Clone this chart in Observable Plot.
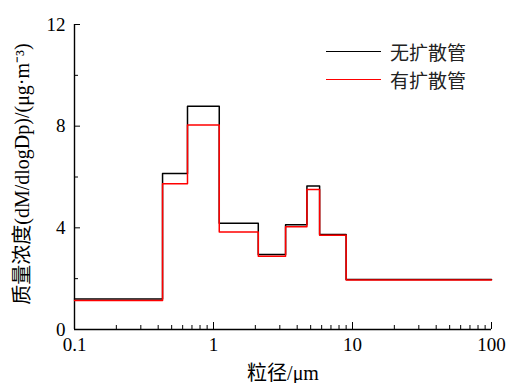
<!DOCTYPE html>
<html><head><meta charset="utf-8">
<script src="https://cdn.jsdelivr.net/npm/d3@7"></script>
<script src="https://cdn.jsdelivr.net/npm/@observablehq/plot@0.6"></script>
<style>
html,body{margin:0;padding:0;background:#fff;}
#wrap{position:relative;width:506px;height:383px;font-family:"Liberation Serif","Noto Sans CJK SC",serif;}
.leg{position:absolute;left:326px;font-size:19px;display:flex;align-items:center;color:#222;}
.leg span.l{display:inline-block;width:55px;height:0;border-top:1.5px solid;margin-right:9px;}
</style></head>
<body><div id="wrap"></div>
<script>
// Andersen stage cut-off diameters (µm) and bin values
const edges = [0.1, 0.43, 0.65, 1.1, 2.1, 3.3, 4.7, 5.8, 9.0, 100];
const noTube = [1.20, 6.14, 8.78, 4.18, 2.95, 4.12, 5.65, 3.74, 1.97];
const withTube = [1.14, 5.73, 8.05, 3.84, 2.88, 4.04, 5.51, 3.71, 1.95];
const seriesNames = ["无扩散管", "有扩散管"];
const seriesColors = ["#000000", "#ff0000"];
const xMajor = [0.1, 1, 10, 100];
const xMinor = [0.2,0.3,0.4,0.5,0.6,0.7,0.8,0.9,2,3,4,5,6,7,8,9,20,30,40,50,60,70,80,90];
const yMajor = [0, 4, 8, 12];
const yMinor = [2, 6, 10];

const W = 506, H = 383, mL = 74, mR = 15, mT = 24, mB = 54;
const fw = W - mL - mR, fh = H - mT - mB;
const toSteps = vals => edges.map((x, i) => ({x, y: vals[Math.min(i, vals.length - 1)]}));
const font = '"Liberation Serif","Noto Sans CJK SC",serif';

const chart = Plot.plot({
  width: W, height: H,
  marginLeft: mL, marginRight: mR, marginTop: mT, marginBottom: mB,
  style: {fontFamily: font, fontSize: "19px", color: "#000", background: "transparent"},
  x: {type: "log", domain: [0.1, 100]},
  y: {domain: [0, 12]},
  marks: [
    Plot.axisX({ticks: xMajor, tickSize: 0, tickPadding: 8, tickFormat: d => String(d), label: null, fontSize: 19}),
    Plot.axisY({ticks: yMajor, tickSize: 0, tickPadding: 9, label: null, fontSize: 19}),
    Plot.tickX(xMinor, {x: d => d, insetTop: fh - 4, stroke: "#000"}),
    Plot.tickX(xMajor, {x: d => d, insetTop: fh - 7, stroke: "#000"}),
    Plot.tickY(yMinor, {y: d => d, insetRight: fw - 4, stroke: "#000"}),
    Plot.tickY(yMajor, {y: d => d, insetRight: fw - 6, stroke: "#000"}),
    Plot.ruleX([0.1], {stroke: "#000", strokeWidth: 1.4}),
    Plot.ruleY([0], {stroke: "#000", strokeWidth: 1.4}),
    Plot.line(toSteps(noTube), {x: "x", y: "y", curve: "step-after", stroke: seriesColors[0], strokeWidth: 1.5}),
    Plot.line(toSteps(withTube), {x: "x", y: "y", curve: "step-after", stroke: seriesColors[1], strokeWidth: 1.5}),
    Plot.text(["粒径/μm"], {frameAnchor: "bottom", text: d => d, dy: 44, fontSize: 20, lineAnchor: "middle"}),
    Plot.text(["质量浓度(dM/dlogDp)/(μg·m⁻³)"], {frameAnchor: "left", text: d => d, dx: -52, dy: -3, rotate: -90, fontSize: 20, lineAnchor: "middle", textAnchor: "middle"})
  ]
});
const wrap = document.getElementById("wrap");
wrap.appendChild(chart);
seriesNames.forEach((n, i) => {
  const d = document.createElement("div");
  d.className = "leg";
  d.style.top = (38 + i * 27.5) + "px";
  d.innerHTML = `<span class="l" style="border-color:${seriesColors[i]}"></span><span>${n}</span>`;
  wrap.appendChild(d);
});
</script></body></html>
